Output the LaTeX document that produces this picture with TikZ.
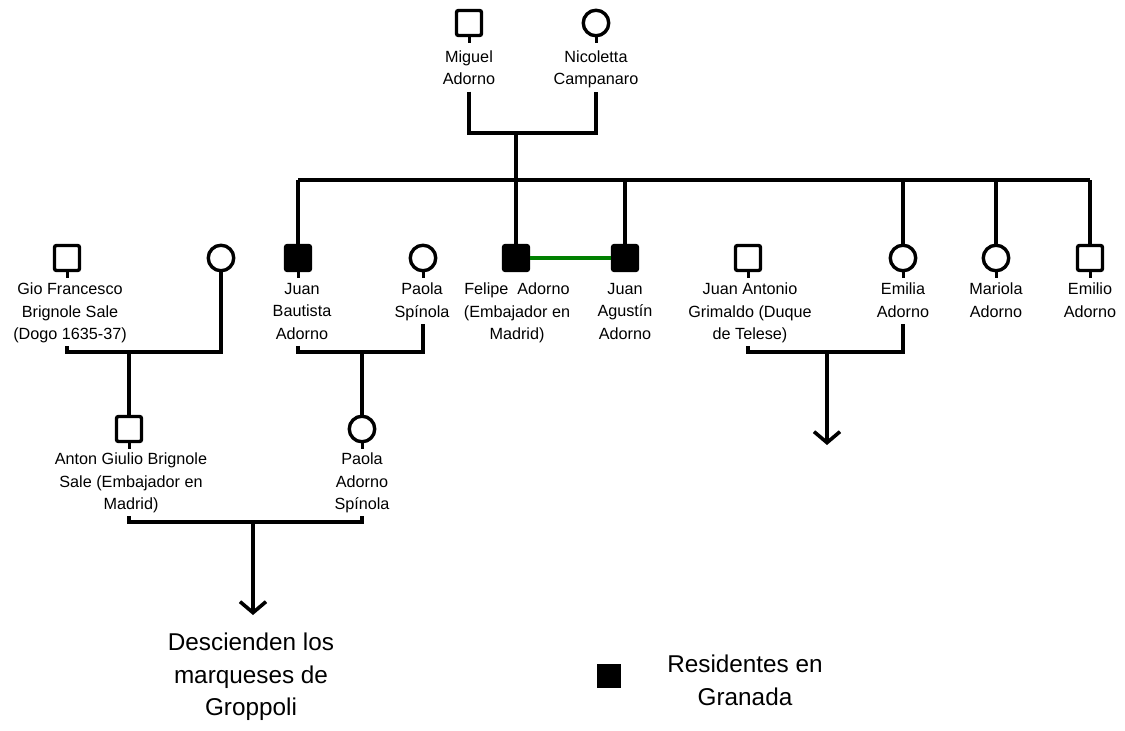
\documentclass[tikz,border=0pt]{standalone}
\usepackage{fontspec}
\setmainfont{Liberation Sans}
\usetikzlibrary{arrows.meta}
\begin{document}
\begin{tikzpicture}[x=1pt,y=-1pt,
  male/.style={draw,line width=3.4pt,rounded corners=2pt,minimum size=25pt,inner sep=0pt,fill=white},
  malein/.style={male,fill=black},
  female/.style={draw,circle,line width=3.4pt,minimum size=25.5pt,inner sep=0pt,fill=white},
  lbl/.style={align=center,inner sep=0pt,font=\fontsize{16.2}{22.3}\selectfont,
    execute at begin node=\strut,execute at end node=\strut},
  big/.style={align=center,inner sep=0pt,font=\fontsize{24.3}{32.5}\selectfont},
  link/.style={line width=3.6pt,line join=miter},
  stub/.style={line width=3pt},
  marriage/.style={line width=3.6pt,draw={rgb,255:red,0;green,128;blue,0}},
  desc/.style={link,-{Straight Barb[length=11pt,width=26pt,line width=3.6pt]}}]
\useasboundingbox (0,0) rectangle (1125,731);

% first generation
\node[male]   (mig) at (469,23) {};
\node[female] (nic) at (596,23) {};
\node[lbl] (migl) at (469,71) {Miguel\\Adorno};
\node[lbl] (nicl) at (596,71) {Nicoletta\\Campanaro};

% second generation
\node[male]    (gio) at (67,258) {};
\node[female]  (wgi) at (221,258) {};
\node[malein]  (jba) at (298,258) {};
\node[female]  (pao) at (423,258) {};
\node[malein]  (fel) at (516,258) {};
\node[malein]  (jag) at (625,258) {};
\node[male]    (jan) at (748,258) {};
\node[female]  (emi) at (903,258) {};
\node[female]  (mar) at (996,258) {};
\node[male]    (eml) at (1090,258) {};

\node[lbl] (giol) at (70,314.5)  {Gio Francesco\\Brignole Sale\\(Dogo 1635-37)};
\node[lbl] (jbal) at (302,314.5) {Juan\\Bautista\\Adorno};
\node[lbl] (paol) at (422,303.5) {Paola\\Spínola};
\node[lbl] (fell) at (517,314.5) {Felipe\ \ Adorno\\(Embajador en\\Madrid)};
\node[lbl] (jagl) at (625,314.5) {Juan\\Agustín\\Adorno};
\node[lbl] (janl) at (750,314.5) {Juan Antonio\\Grimaldo (Duque\\de Telese)};
\node[lbl] (emil) at (903,303.5) {Emilia\\Adorno};
\node[lbl] (marl) at (996,303.5) {Mariola\\Adorno};
\node[lbl] (emll) at (1090,303.5) {Emilio\\Adorno};

% third generation
\node[male]   (ant) at (129,429) {};
\node[female] (pad) at (362,429) {};
\node[lbl] (antl) at (131,484.5) {Anton Giulio Brignole\\Sale (Embajador en\\Madrid)};
\node[lbl] (padl) at (362,484.5) {Paola\\Adorno\\Spínola};

% descendants and legend
\node[big] (gro) at (251,677) {Descienden los\\marqueses de\\Groppoli};
\node[draw=none,fill=black,minimum size=24pt,inner sep=0pt] (key) at (609,676) {};
\node[big] (keyl) at (745,680.5) {Residentes en\\Granada};

% junction points
\coordinate (p1) at (516,133);
\coordinate (sib) at (516,180);
\coordinate (c1) at (221,352);
\coordinate (c2) at (362,352);
\coordinate (c3) at (827,352);
\coordinate (c4) at (253,522);
\coordinate (end1) at (253,615);
\coordinate (end2) at (827,445);

% short stubs under the symbols
\foreach \n in {mig,nic,gio,jba,pao,jan,emi,mar,eml,ant,pad}
  \draw[stub] (\n.south) -- ++(0,6);

% parents of the sibling line
\draw[link] (mig |- migl.south) -- (mig |- p1) -- (nic |- p1) -- (nic |- nicl.south);
\draw[link] (p1) -- (sib);
\draw[link] (jba.north |- sib) -- (eml.north |- sib);
\foreach \n in {jba,fel,jag,emi,mar,eml}
  \draw[link] (\n.north |- sib) -- (\n.north);

% marriage between the brothers
\draw[marriage] (fel.east) -- (jag.west);

% couples
\draw[link] (gio |- giol.south) -- (gio |- c1) -- (c1) -- (wgi.south);
\draw[link] (ant.north) -- (ant |- c1);
\draw[link] (jba |- jbal.south) -- (jba |- c1) -- (pao |- c1) -- (pao |- paol.south);
\draw[link] (c2) -- (pad.north);
\draw[link] (jan |- janl.south) -- (jan |- c3) -- (emi |- c3) -- (emi |- emil.south);
\draw[desc] (c3) -- (end2);
\draw[link] (ant |- antl.south) -- (ant |- c4) -- (pad |- c4) -- (pad |- padl.south);
\draw[desc] (c4) -- (end1);
\end{tikzpicture}
\end{document}
